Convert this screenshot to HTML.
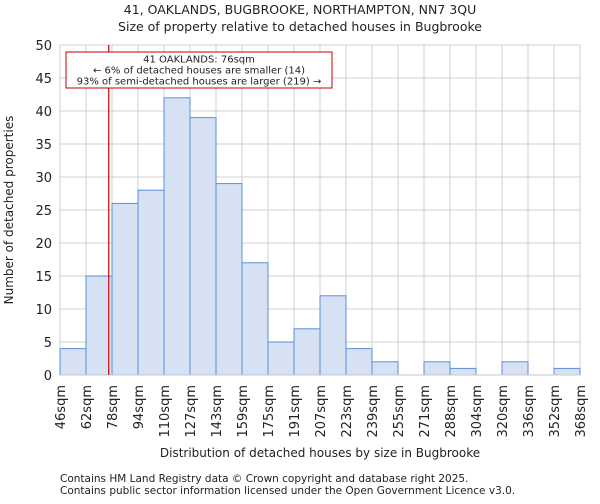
<!DOCTYPE html>
<html><head><meta charset="utf-8"><style>
body{margin:0;background:#fff;font-family:"DejaVu Sans","Liberation Sans",sans-serif;}
svg text{font-family:"DejaVu Sans","Liberation Sans",sans-serif;fill:#222;}
</style></head><body>
<svg id="chart" width="600" height="500">
<text x="300" y="14" text-anchor="middle" font-size="12.5">41, OAKLANDS, BUGBROOKE, NORTHAMPTON, NN7 3QU</text>
<text x="300" y="31" text-anchor="middle" font-size="12.5">Size of property relative to detached houses in Bugbrooke</text>
<g id="grid"></g><g id="bars"></g><g id="axes"></g>
<text transform="translate(13,210) rotate(-90)" text-anchor="middle" font-size="12">Number of detached properties</text>
<text x="320" y="457" text-anchor="middle" font-size="12">Distribution of detached houses by size in Bugbrooke</text>
<text x="60" y="482" font-size="10.5" fill="#444">Contains HM Land Registry data © Crown copyright and database right 2025.</text>
<text x="60" y="494" font-size="10.5" fill="#444">Contains public sector information licensed under the Open Government Licence v3.0.</text>
</svg>
<script>
const categories=["46sqm","62sqm","78sqm","94sqm","110sqm","127sqm","143sqm","159sqm","175sqm","191sqm","207sqm","223sqm","239sqm","255sqm","271sqm","288sqm","304sqm","320sqm","336sqm","352sqm","368sqm"];
const counts=[4,15,26,28,42,39,29,17,5,7,12,4,2,0,2,1,0,2,0,1];
const yTicks=[0,5,10,15,20,25,30,35,40,45,50];
const markerValue=76;
const NS="http://www.w3.org/2000/svg";
const x0=60,x1=580,y0=375,y1=45,nb=counts.length,bw=(x1-x0)/nb;
const xs=i=>x0+i*bw, ys=v=>y0-(v/50)*(y0-y1);
function mk(t,a,p){const e=document.createElementNS(NS,t);for(const k in a)e.setAttribute(k,a[k]);p.appendChild(e);return e;}
const grid=document.getElementById('grid'),bars=document.getElementById('bars'),axes=document.getElementById('axes');
yTicks.forEach(v=>{
 const l=mk('line',{x1:x0,x2:x1,y1:ys(v),y2:ys(v),stroke:'#d0d0d0','stroke-width':1},grid);
 
 
 const t=mk('text',{x:x0-8,y:ys(v)+5,'text-anchor':'end','font-size':13},axes);t.textContent=v;
 
 
});
categories.forEach((c,i)=>{
 const l=mk('line',{x1:xs(i),x2:xs(i),y1:y1,y2:y0,stroke:'#d0d0d0','stroke-width':1},grid);
 
 
 const t=mk('text',{transform:`translate(${xs(i)+5},${y0+10}) rotate(-90)`,'text-anchor':'end','font-size':13},axes);t.textContent=c;
 
 
});
counts.forEach((v,i)=>{
 const r=mk('rect',{x:xs(i),y:ys(v),width:bw,height:y0-ys(v),fill:'#d6e2f4',stroke:'#5b8fd6','stroke-width':1},bars);
 
 
});
const bl=mk('line',{x1:x0,x2:x1,y1:y0,y2:y0,stroke:'#c8c8c8'},axes);


const binStart=parseFloat(categories[0]),binW=parseFloat(categories[1])-binStart;
const mx=x0+(markerValue-binStart)/binW*bw;
const ml=mk('line',{x1:mx,x2:mx,y1:y1,y2:y0,stroke:'#cc0000','stroke-width':1.2},axes);


const box=mk('rect',{x:66,y:52,width:266,height:36,fill:'#fff',stroke:'#cc0000','stroke-width':1},axes);


["41 OAKLANDS: 76sqm","← 6% of detached houses are smaller (14)","93% of semi-detached houses are larger (219) →"].forEach((s,i)=>{
 const t=mk('text',{x:199,y:62.5+i*11,'text-anchor':'middle','font-size':10},axes);t.textContent=s;
 
 
});
</script>
</body></html>
